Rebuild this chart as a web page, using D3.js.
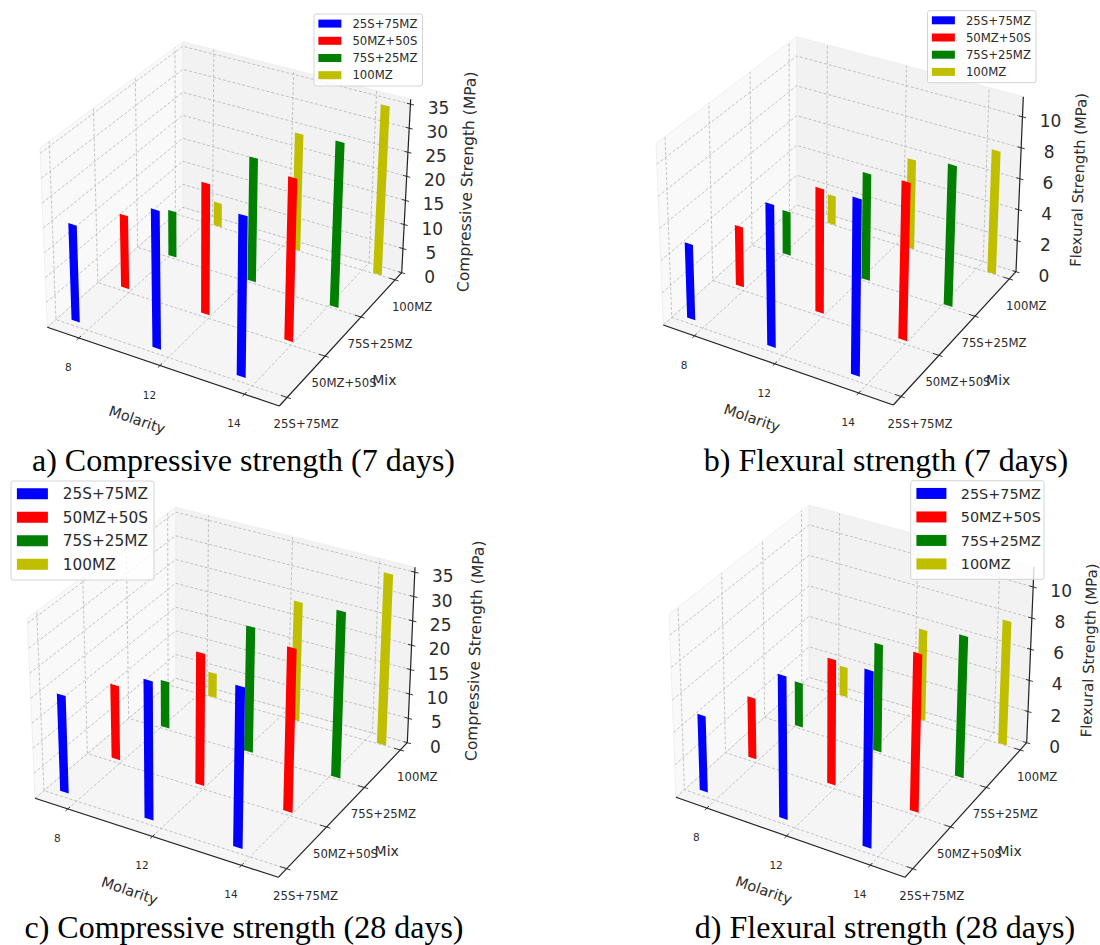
<!DOCTYPE html>
<html>
<head>
<meta charset="utf-8">
<script src="https://cdn.jsdelivr.net/npm/d3@7"></script>
<style>
body { margin: 0; background: #fff; }
text { font-family: "DejaVu Sans", sans-serif; fill: #2b2b2b; }
.caption { font-family: "Liberation Serif", serif; fill: #000; }
</style>
</head>
<body>
<div id="chart"></div>
<script>
let width = 1100
let height = 945

const molarity = ['8', '12', '14']
const mixes = ['25S+75MZ', '50MZ+50S', '75S+25MZ', '100MZ']
const colors = ['#0000ff', '#ff0000', '#007f00', '#bfbf00']

// rows follow mixes, columns follow molarity
const compressive7 = [[19.5, 27.5, 31.5], [15, 26.5, 32.5], [9.5, 25.5, 33.5], [5, 24.5, 35]]
const flexural7 = [[4.7, 8.8, 10.8], [3.8, 7.8, 9.8], [2.8, 6.8, 8.9], [1.9, 5.8, 7.9]]
const compressive28 = [[19.5, 27.5, 31.5], [15, 26.5, 32.5], [9.5, 25.5, 33.5], [5, 24.5, 35]]
const flexural28 = [[4.7, 8.8, 10.8], [3.8, 7.8, 9.8], [2.8, 6.8, 8.9], [1.9, 5.8, 7.9]]

const compressiveTicks = [0, 5, 10, 15, 20, 25, 30, 35]
const flexuralTicks = [0, 2, 4, 6, 8, 10]

// floor and roof hold the box corners in the picture: left, front, right, back
const panels = [
    { values: compressive7, ticks: compressiveTicks, zMax: 36, zLabel: 'Compressive Strength (MPa)', zDx: 66, zFont: 15.5,
      caption: 'a) Compressive strength (7 days)', capX: 243.5, capY: 471,
      floor: [[47.3, 327.3], [279.3, 406], [401.7, 272.7], [182.7, 207.3]],
      roof: [[40, 148.3], [283.3, 218.3], [410.7, 99.3], [182.7, 41.7]],
      legend: { x: 314, y: 14, w: 108.5, h: 72, sw: 23, sh: 8, step: 17.2, font: 11.7 } },
    { values: flexural7, ticks: flexuralTicks, zMax: 11.3, zLabel: 'Flexural Strength (MPa)', zDx: 64, zFont: 14.8,
      caption: 'b) Flexural strength (7 days)', capX: 886, capY: 471,
      floor: [[663.3, 325], [893.3, 405], [1016, 271.7], [796.7, 205]],
      roof: [[656, 143.3], [897.3, 217.3], [1023.3, 96.7], [796.7, 36.7]],
      legend: { x: 927.5, y: 10.7, w: 108.5, h: 72, sw: 23, sh: 8, step: 17.2, font: 11.7 } },
    { values: compressive28, ticks: compressiveTicks, zMax: 36, zLabel: 'Compressive Strength (MPa)', zDx: 69, zFont: 15.5,
      caption: 'c) Compressive strength (28 days)', capX: 244, capY: 938,
      floor: [[35, 798.3], [278.3, 877.3], [407.3, 742.7], [175.7, 678.3]],
      roof: [[27.3, 618.3], [282.3, 690], [415, 567.3], [175.7, 507.3]],
      legend: { x: 11, y: 481, w: 143, h: 99, sw: 31, sh: 11, step: 23.5, font: 15.3 } },
    { values: flexural28, ticks: flexuralTicks, zMax: 11.3, zLabel: 'Flexural Strength (MPa)', zDx: 64, zFont: 14.8,
      caption: 'd) Flexural strength (28 days)', capX: 885, capY: 938,
      floor: [[676, 797.3], [905, 877.3], [1026.7, 742.7], [809, 677.3]],
      roof: [[669, 614], [909, 690], [1034, 566.7], [809, 505]],
      legend: { x: 910.7, y: 480.7, w: 133.3, h: 98.6, sw: 30, sh: 11, step: 23.5, font: 14.4 } }
]

let svg = d3.select('#chart')
            .append('svg')
            .attr('width', width)
            .attr('height', height)

// perspective map from the unit square to a picture quad
function quadMap(q) {
    let [[x0, y0], [x1, y1], [x2, y2], [x3, y3]] = q
    let dx1 = x1 - x2, dx2 = x3 - x2, ex = x0 - x1 + x2 - x3
    let dy1 = y1 - y2, dy2 = y3 - y2, ey = y0 - y1 + y2 - y3
    let den = dx1 * dy2 - dx2 * dy1
    let g = (ex * dy2 - dx2 * ey) / den
    let h = (dx1 * ey - ex * dy1) / den
    let a = x1 - x0 + g * x1, b = x3 - x0 + h * x3
    let d = y1 - y0 + g * y1, e = y3 - y0 + h * y3
    return (u, v) => {
        let w = g * u + h * v + 1
        return [(a * u + b * v + x0) / w, (d * u + e * v + y0) / w]
    }
}

function drawPanel(panel) {
    let g = svg.append('g')

    let xNorm = d3.scaleLinear().domain([-0.4, 2.4]).range([0, 1])
    let yNorm = d3.scaleLinear().domain([-0.2, 3.2]).range([0, 1])
    let zNorm = d3.scaleLinear().domain([0, panel.zMax]).range([0, 1])

    let floorMap = quadMap(panel.floor)
    let roofMap = quadMap(panel.roof)

    // point in box coordinates (0..1) to pixels
    let pt = p => d3.interpolate(floorMap(p[0], p[1]), roofMap(p[0], p[1]))(p[2])
    let line = d3.line()
    let poly = pts => line(pts.map(pt)) + 'Z'

    // panes
    let panes = [
        { pts: [[0, 1, 0], [1, 1, 0], [1, 1, 1], [0, 1, 1]], fill: '#f2f2f2' },
        { pts: [[0, 0, 0], [0, 1, 0], [0, 1, 1], [0, 0, 1]], fill: '#f9f9f9' },
        { pts: [[0, 0, 0], [1, 0, 0], [1, 1, 0], [0, 1, 0]], fill: '#f5f5f5' }
    ]
    g.selectAll('.pane')
        .data(panes)
        .enter()
        .append('path')
        .attr('class', 'pane')
        .attr('d', d => poly(d.pts))
        .attr('fill', d => d.fill)
        .attr('stroke', '#ececec')
        .attr('stroke-width', 0.8)

    // grid
    let gridLines = []
    molarity.forEach((m, i) => {
        let x = xNorm(i)
        gridLines.push([[x, 0, 0], [x, 1, 0], [x, 1, 1]])
    })
    mixes.forEach((m, j) => {
        let y = yNorm(j)
        gridLines.push([[1, y, 0], [0, y, 0], [0, y, 1]])
    })
    panel.ticks.forEach(t => {
        let z = zNorm(t)
        gridLines.push([[0, 0, z], [0, 1, z], [1, 1, z]])
    })
    g.selectAll('.grid')
        .data(gridLines)
        .enter()
        .append('path')
        .attr('class', 'grid')
        .attr('d', d => line(d.map(pt)))
        .attr('fill', 'none')
        .attr('stroke', '#b4b4b4')
        .attr('stroke-width', 0.8)
        .attr('stroke-dasharray', '3,2')

    // axis lines
    let axes = [
        [[0, 0, 0], [1, 0, 0]],
        [[1, 0, 0], [1, 1, 0]],
        [[1, 1, 0], [1, 1, 1]]
    ]
    g.selectAll('.axis')
        .data(axes)
        .enter()
        .append('path')
        .attr('class', 'axis')
        .attr('d', d => line(d.map(pt)))
        .attr('stroke', '#222')
        .attr('stroke-width', 1.2)

    // tick marks
    let tickMarks = []
    molarity.forEach((m, i) => tickMarks.push([[xNorm(i), -0.015, 0], [xNorm(i), 0.015, 0]]))
    mixes.forEach((m, j) => tickMarks.push([[0.975, yNorm(j), 0], [1.015, yNorm(j), 0]]))
    panel.ticks.forEach(t => tickMarks.push([[0.985, 1, zNorm(t)], [1.015, 1, zNorm(t)]]))
    g.selectAll('.tick')
        .data(tickMarks)
        .enter()
        .append('path')
        .attr('class', 'tick')
        .attr('d', d => line(d.map(pt)))
        .attr('stroke', '#222')
        .attr('stroke-width', 0.9)

    // bars, far series first so the near ones cover them
    let bars = []
    d3.range(mixes.length).reverse().forEach(j => {
        molarity.forEach((m, i) => {
            let x0 = xNorm(i * 1.012 - 0.255 + 0.12 * j)
            let x1 = xNorm(i * 1.012 - 0.15 + 0.12 * j)
            let y = yNorm(0.1 + 0.97 * j)
            let z = zNorm(panel.values[j][i])
            bars.push({ color: colors[j], pts: [[x0, y, 0], [x1, y, 0], [x1, y, z], [x0, y, z]] })
        })
    })
    g.selectAll('.bar')
        .data(bars)
        .enter()
        .append('path')
        .attr('class', 'bar')
        .attr('d', d => poly(d.pts))
        .attr('fill', d => d.color)

    // tick labels
    g.selectAll('.x-label')
        .data(molarity)
        .enter()
        .append('text')
        .attr('class', 'x-label')
        .attr('x', (d, i) => pt([xNorm(i), 0, 0])[0] - 10.5)
        .attr('y', (d, i) => pt([xNorm(i), 0, 0])[1] + 33)
        .attr('text-anchor', 'middle')
        .style('font-size', '10.5px')
        .text(d => d)

    g.selectAll('.y-label')
        .data(mixes)
        .enter()
        .append('text')
        .attr('class', 'y-label')
        .attr('x', (d, j) => pt([1, yNorm(j), 0])[0] + (d === '100MZ' ? 17 : 19))
        .attr('y', (d, j) => pt([1, yNorm(j), 0])[1] + 31)
        .attr('text-anchor', 'middle')
        .style('font-size', '11.7px')
        .text(d => d)

    g.selectAll('.z-label')
        .data(panel.ticks)
        .enter()
        .append('text')
        .attr('class', 'z-label')
        .attr('x', d => pt([1, 1, zNorm(d)])[0] + 28)
        .attr('y', d => pt([1, 1, zNorm(d)])[1] + 10)
        .attr('text-anchor', 'middle')
        .style('font-size', '17px')
        .text(d => d)

    // axis titles
    let xMid = pt([0.5, 0, 0])
    g.append('text')
        .attr('transform', 'translate(' + (xMid[0] - 24.5) + ',' + (xMid[1] + 59) + ') rotate(19)')
        .attr('text-anchor', 'middle')
        .style('font-size', '14.5px')
        .text('Molarity')

    let yMid = pt([1, 0.5, 0])
    g.append('text')
        .attr('x', yMid[0] + 41)
        .attr('y', yMid[1] + 49)
        .attr('text-anchor', 'middle')
        .style('font-size', '14px')
        .text('Mix')

    let zMid = pt([1, 1, 0.5])
    g.append('text')
        .attr('transform', 'translate(' + (zMid[0] + panel.zDx) + ',' + (zMid[1] - 4) + ') rotate(-88)')
        .attr('text-anchor', 'middle')
        .style('font-size', panel.zFont + 'px')
        .text(panel.zLabel)

    // legend
    let lg = panel.legend
    let legend = g.append('g')
        .attr('transform', 'translate(' + lg.x + ',' + lg.y + ')')
    legend.append('rect')
        .attr('width', lg.w)
        .attr('height', lg.h)
        .attr('rx', 2)
        .attr('fill', '#fff')
        .attr('fill-opacity', 0.8)
        .attr('stroke', '#d4d4d4')
    let rows = legend.selectAll('.row')
        .data(mixes)
        .enter()
        .append('g')
        .attr('class', 'row')
        .attr('transform', (d, i) => 'translate(0,' + (lg.step * (i + 0.5) + 1) + ')')
    rows.append('rect')
        .attr('x', lg.sw * 0.19)
        .attr('y', -lg.sh / 2)
        .attr('width', lg.sw)
        .attr('height', lg.sh)
        .attr('fill', (d, i) => colors[i])
    rows.append('text')
        .attr('x', lg.sw * 1.67)
        .attr('y', lg.font * 0.36)
        .style('font-size', lg.font + 'px')
        .text(d => d)

    g.append('text')
        .attr('class', 'caption')
        .attr('x', panel.capX)
        .attr('y', panel.capY)
        .attr('text-anchor', 'middle')
        .style('font-size', '32px')
        .text(panel.caption)
}

panels.forEach(drawPanel)
</script>
</body>
</html>
